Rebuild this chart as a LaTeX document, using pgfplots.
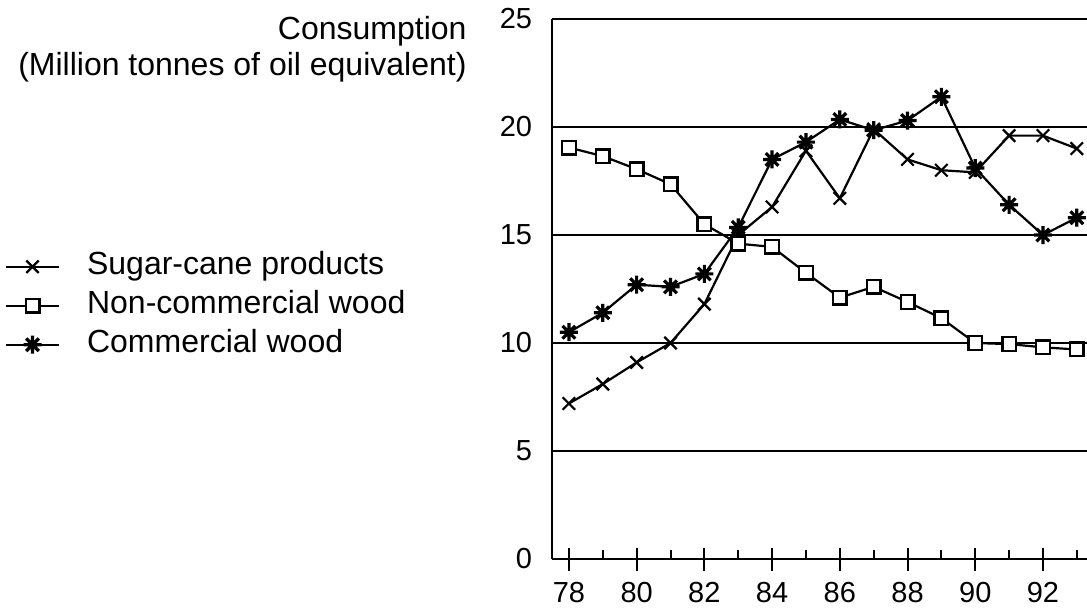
\documentclass[border=0pt]{standalone}
\usepackage{fontspec}
\setmainfont{Liberation Sans}
\usepackage{pgfplots}
\usepackage{pgfplotstable}
\pgfplotsset{compat=1.18}

\pgfdeclareplotmark{star8}{%
  \pgfpathmoveto{\pgfqpoint{-\pgfplotmarksize}{0pt}}\pgfpathlineto{\pgfqpoint{\pgfplotmarksize}{0pt}}%
  \pgfpathmoveto{\pgfqpoint{0pt}{-\pgfplotmarksize}}\pgfpathlineto{\pgfqpoint{0pt}{\pgfplotmarksize}}%
  \pgfpathmoveto{\pgfqpoint{-0.707\pgfplotmarksize}{-0.707\pgfplotmarksize}}\pgfpathlineto{\pgfqpoint{0.707\pgfplotmarksize}{0.707\pgfplotmarksize}}%
  \pgfpathmoveto{\pgfqpoint{-0.707\pgfplotmarksize}{0.707\pgfplotmarksize}}\pgfpathlineto{\pgfqpoint{0.707\pgfplotmarksize}{-0.707\pgfplotmarksize}}%
  \pgfusepathqstroke
  \pgfpathcircle{\pgfpointorigin}{0.5\pgfplotmarksize}%
  \pgfusepathqfill
}

\pgfplotstableread{
year val
78 7.2
79 8.1
80 9.1
81 10.0
82 11.8
83 15.0
84 16.3
85 18.9
86 16.7
87 19.9
88 18.5
89 18.0
90 17.9
91 19.6
92 19.6
93 19.0
}\sugar
\pgfplotstableread{
year val
78 19.05
79 18.65
80 18.05
81 17.35
82 15.5
83 14.6
84 14.45
85 13.25
86 12.1
87 12.6
88 11.9
89 11.15
90 10.0
91 9.95
92 9.8
93 9.7
}\noncomm
\pgfplotstableread{
year val
78 10.5
79 11.4
80 12.7
81 12.6
82 13.2
83 15.35
84 18.5
85 19.3
86 20.35
87 19.85
88 20.3
89 21.4
90 18.1
91 16.4
92 15.0
93 15.8
}\comm

\begin{document}
\begin{tikzpicture}
\begin{axis}[
  scale only axis, width=267.5pt, height=270pt,
  xmin=77.5, xmax=93.3, ymin=0, ymax=25,
  axis x line*=bottom, axis y line*=left,
  axis line style={line width=1.2pt},
  xtick={78,80,...,92}, minor xtick={79,81,...,93},
  ytick={0,5,...,25},
  ymajorgrids, major grid style={black, line width=0.55pt},
  tick align=center, major tick length=11.5pt, minor tick length=4.5pt,
  every tick/.append style={black, line width=1pt},
  every minor tick/.append style={yshift=2.25pt},
  ytick style={draw=none},
  /pgf/number format/assume math mode=true,
  xticklabel style={font=\fontsize{14.5}{17}\selectfont, inner sep=0pt, anchor=north, yshift=-5.5pt},
  yticklabel style={font=\fontsize{14.5}{17}\selectfont, inner sep=0pt, anchor=east, xshift=-4pt},
  ylabel={Consumption\\(Million tonnes of oil equivalent)},
  ylabel style={rotate=-90, at={(axis description cs:-0.159,1.0065)}, anchor=north east, align=right, inner sep=0pt, font=\fontsize{16}{18}\selectfont},
  legend cell align=left,
  legend style={at={(axis description cs:-1.0226,0.469)}, anchor=west, draw=none, fill=none,
    inner sep=0pt, outer sep=0pt, row sep=4.5pt, column sep=13.5pt,
    font=\fontsize{16}{19}\selectfont,
    nodes={inner sep=0pt, text height=11.5pt, text depth=3.5pt}},
  legend image code/.code={\draw[mark repeat=2, mark phase=2, #1] plot coordinates {(0pt,0pt) (13.25pt,0pt) (26.5pt,0pt)};},
]
\addplot[black, line width=1.1pt, mark=x, mark size=4.4pt, mark options={line width=1.1pt}] table[x=year,y=val] {\sugar};
\addlegendentry{Sugar-cane products}
\addplot[black, line width=1.1pt, mark=square*, mark size=3.4pt, mark options={fill=white, line width=1.2pt}] table[x=year,y=val] {\noncomm};
\addlegendentry{Non-commercial wood}
\addplot[black, line width=1.1pt, mark=star8, mark size=4.5pt, mark options={line width=1.6pt}] table[x=year,y=val] {\comm};
\addlegendentry{Commercial wood}
\end{axis}
\pgfresetboundingbox
\path (-276pt,-26.5pt) rectangle (267.5pt,279.5pt);
\end{tikzpicture}
\end{document}
